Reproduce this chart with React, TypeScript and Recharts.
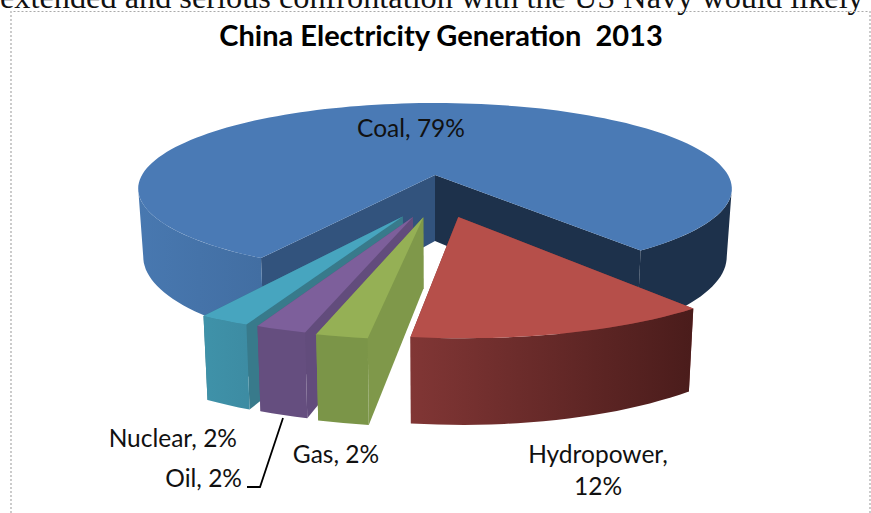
import { PieChart, Pie } from "recharts";

const sources = ["Coal", "Nuclear", "Oil", "Gas", "Hydropower"];
// labels print rounded figures, shares are estimated from the slice widths
const shares = [79.4, 2.1, 2.1, 2.1, 12.4];
const topColors = ["#4A7AB5", "#47A5BF", "#7D5F9B", "#95B055", "#B64F4A"];
const rimLeft = ["#4878B0", "#3F92A9", "#654E7F", "#7B9548", "#813635"];
const rimRight = ["#426EA2", "#3D8CA3", "#654E7F", "#7B9548", "#4A1C1B"];
const startWall = ["#32537D", "#387A8B", "#624C7C", "#7F984A", "#7F3534"];
const endWall = ["#1D314B", "#387A8B", "#624C7C", "#7F984A", "#7F3534"];
const pullAngle = [0, 102.5, 98.5, 94.5, 81];
const pullSize = [0, 0.47, 0.47, 0.47, 0.47];
const rimScale = [1, 1.015, 1.02, 1.03, 1.025];

// fake 3D: tilt, perspective and extrusion depth of the pie
const TILT = 0.285;
const PERSP = 0.16;
const DEPTH = 66;
const TAPER = 0.983;
// screen angle where the rim silhouette turns away
const EDGE_LEFT = 171;
const EDGE_RIGHT = 369;

const chartData = sources.map((name, i) => ({ name, value: shares[i] }));
const rad = (d: number) => (d * Math.PI) / 180;

function Slice3D(props: any) {
  const { cx, cy, outerRadius: R, startAngle, endAngle, name } = props;
  const i = sources.indexOf(name);
  const ox = pullSize[i] * Math.cos(rad(pullAngle[i]));
  const oy = pullSize[i] * Math.sin(rad(pullAngle[i]));

  const top = (X: number, Y: number) => {
    const s = 1 / (1 - PERSP * Y);
    return [cx + X * R * s, cy + Y * TILT * R * s];
  };
  const bottom = (X: number, Y: number) => {
    const s = 1 / (1 - PERSP * Y);
    const [x, y] = top(X, Y);
    return [cx + (x - cx) * TAPER, y + DEPTH * s];
  };
  const rimAt = (a: number) => [
    ox + rimScale[i] * Math.cos(rad(a)),
    oy + rimScale[i] * Math.sin(rad(a)),
  ];
  const poly = (pts: number[][]) =>
    "M" + pts.map((p) => p[0].toFixed(1) + "," + p[1].toFixed(1)).join("L") + "Z";

  // recharts angles run anticlockwise, the projection uses screen angles
  const a0 = -endAngle;
  const a1 = -startAngle;
  const arc = (from: number, to: number) => {
    const out: number[] = [];
    const n = Math.max(2, Math.ceil((to - from) / 2));
    for (let k = 0; k <= n; k++) out.push(from + ((to - from) * k) / n);
    return out;
  };
  const topArc = arc(a0, a1).map((a) => top(rimAt(a)[0], rimAt(a)[1]));
  const rimFace = (from: number, to: number) =>
    poly([
      ...arc(from, to).map((a) => top(rimAt(a)[0], rimAt(a)[1])),
      ...arc(from, to)
        .reverse()
        .map((a) => bottom(rimAt(a)[0], rimAt(a)[1])),
    ]);
  const wall = (a: number) => {
    const [rx, ry] = rimAt(a);
    return poly([top(ox, oy), top(rx, ry), bottom(rx, ry), bottom(ox, oy)]);
  };
  const gradId = "rim" + i;
  const leftX = top(rimAt(i === 0 ? EDGE_LEFT : a1)[0], rimAt(i === 0 ? EDGE_LEFT : a1)[1])[0];
  const rightX = top(rimAt(a0)[0], rimAt(a0)[1])[0];

  return (
    <g>
      <defs>
        <linearGradient id={gradId} gradientUnits="userSpaceOnUse" x1={leftX} x2={rightX} y1={0} y2={0}>
          <stop offset="0" stopColor={rimLeft[i]} />
          <stop offset="1" stopColor={rimRight[i]} />
        </linearGradient>
      </defs>
      {i === 0 ? (
        <>
          <path d={wall(a0)} fill={startWall[0]} />
          <path d={wall(a1)} fill={endWall[0]} />
          <path d={rimFace(a0, EDGE_LEFT)} fill={"url(#" + gradId + ")"} />
          <path d={rimFace(EDGE_RIGHT, a1)} fill={endWall[0]} />
        </>
      ) : (
        <>
          <path d={wall(a1)} fill={endWall[i]} />
          <path d={wall(a0)} fill={startWall[i]} />
          <path d={rimFace(a0, a1)} fill={"url(#" + gradId + ")"} />
        </>
      )}
      <path d={poly([top(ox, oy), ...topArc])} fill={topColors[i]} />
    </g>
  );
}

const labelSpots: Record<string, { x: number; y: number; anchor: "start" | "middle" | "end" }> = {
  Coal: { x: 411, y: 137, anchor: "middle" },
  Nuclear: { x: 237, y: 447, anchor: "end" },
  Oil: { x: 242, y: 487, anchor: "end" },
  Gas: { x: 336, y: 463, anchor: "middle" },
  Hydropower: { x: 598, y: 463, anchor: "middle" },
};

function SliceLabel(props: any) {
  const { name, value } = props;
  const spot = labelSpots[name];
  const pct = Math.round(value) + "%";
  if (name === "Hydropower") {
    return (
      <text x={spot.x} y={spot.y} textAnchor={spot.anchor} fontFamily="Lato" fontSize={24.5} fill="#111">
        <tspan x={spot.x}>{name},</tspan>
        <tspan x={spot.x} dy={32}>{pct}</tspan>
      </text>
    );
  }
  return (
    <text x={spot.x} y={spot.y} textAnchor={spot.anchor} fontFamily="Lato" fontSize={24.5} fill="#111">
      {name}, {pct}
    </text>
  );
}

export default function App() {
  return (
    <div style={{ position: "absolute", left: 0, top: 0, width: 871, height: 513, background: "#fff", overflow: "hidden" }}>
      <PieChart width={871} height={513} margin={{ top: 0, right: 0, bottom: 0, left: 0 }}>
        <text x={0} y={8} fontFamily="Liberation Serif" fontSize={32.3} fill="#111">
          extended and serious confrontation with the US Navy would likely
        </text>
        <path d="M11,513V11.5H870V513" fill="none" stroke="#aaa" strokeWidth={1.2} strokeDasharray="2 2" />
        <text x={441} y={46} textAnchor="middle" fontFamily="Lato" fontWeight={700} fontSize={29} fill="#000" style={{ whiteSpace: "pre" }}>
          {"China Electricity Generation  2013"}
        </text>
        <Pie
          data={chartData}
          dataKey="value"
          nameKey="name"
          cx={435}
          cy={175}
          outerRadius={293}
          startAngle={-412.2}
          endAngle={-52.2}
          stroke="none"
          isAnimationActive={false}
          shape={Slice3D}
          label={SliceLabel}
          labelLine={false}
        />
        <path d="M247,487H260L283,418" fill="none" stroke="#000" strokeWidth={1.8} />
      </PieChart>
    </div>
  );
}
